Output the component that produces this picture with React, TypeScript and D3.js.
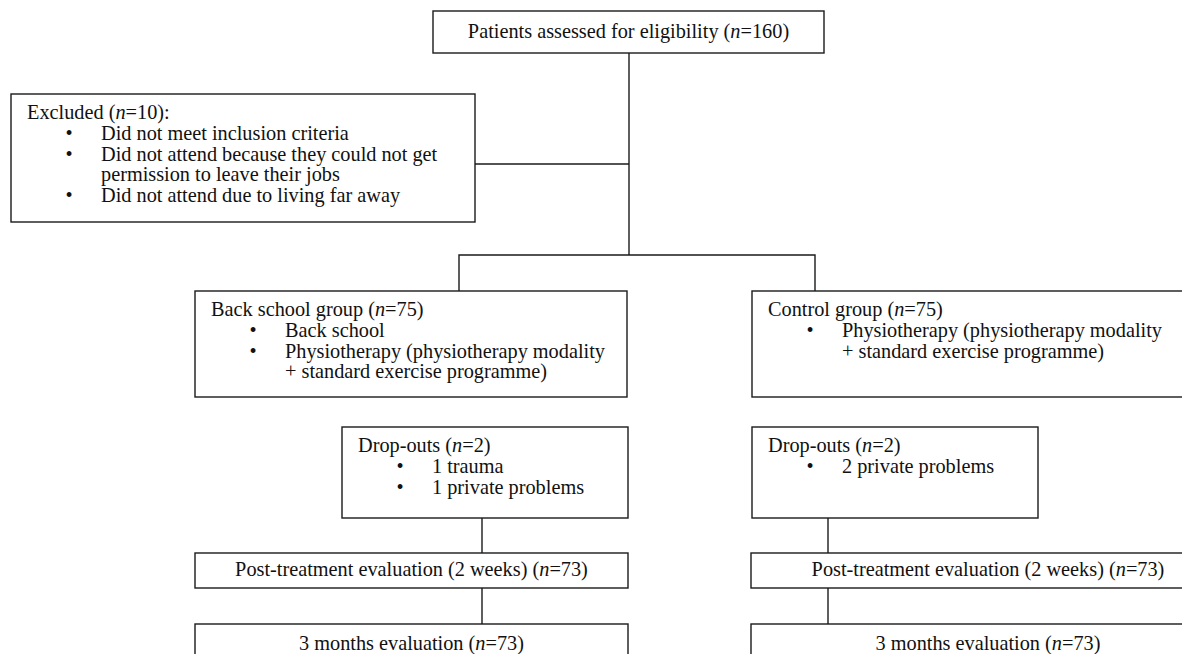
import React from "react";
import * as d3 from "d3";

// ---- flow data ----
const assessedLabel = "Patients assessed for eligibility";
const assessedN = 160;

const excludedLabel = "Excluded";
const excludedN = 10;
// each reason is a list of wrapped lines
const excludedReasons = [
  ["Did not meet inclusion criteria"],
  ["Did not attend because they could not get", "permission to leave their jobs"],
  ["Did not attend due to living far away"],
];

const groupNames = ["Back school group", "Control group"];
const groupN = [75, 75];
const groupArms = [
  [["Back school"], ["Physiotherapy (physiotherapy modality", "+ standard exercise programme)"]],
  [["Physiotherapy (physiotherapy modality", "+ standard exercise programme)"]],
];

const dropoutLabel = "Drop-outs";
const dropoutN = [2, 2];
const dropoutReasons = [
  [["1 trauma"], ["1 private problems"]],
  [["2 private problems"]],
];

const postLabel = "Post-treatment evaluation (2 weeks)";
const postN = [73, 73];
const followLabel = "3 months evaluation";
const followN = [73, 73];

// ---- layout (pixels) ----
const W = 1182;
const H = 654;
const FONT = "'Liberation Serif', 'Times New Roman', Times, serif";
const FS = 20.3;
const LINE_H = 20.8;
const PAD_X = 16;
const FIRST_BASE = 25;
const BULLET_DX = 42;
const ITEM_DX = 74;
const STROKE = "#1a1a1a";

type Box = { x: number; y: number; w: number; h: number };

const layout = {
  assessed: { x: 433, y: 11, w: 391, h: 42 },
  excluded: { x: 11, y: 94, w: 464, h: 128 },
  groups: [
    { x: 195, y: 291, w: 432, h: 106 },
    { x: 752, y: 291, w: 480, h: 106 },
  ],
  dropouts: [
    { x: 342, y: 427, w: 286, h: 91 },
    { x: 752, y: 427, w: 286, h: 91 },
  ],
  post: [
    { x: 195, y: 553, w: 433, h: 35 },
    { x: 751, y: 553, w: 474, h: 35 },
  ],
  follow: [
    { x: 195, y: 624, w: 433, h: 60 },
    { x: 751, y: 624, w: 474, h: 60 },
  ],
  stemX: 629,
  excludedY: 164,
  splitY: 255,
  armX: [459, 815],
  colX: [482, 828],
};

const NLabel = ({ label, n }: { label: string; n: number }) => (
  <>
    <tspan>{label} (</tspan>
    <tspan fontStyle="italic">n</tspan>
    <tspan>={n})</tspan>
  </>
);

const Rect = ({ b }: { b: Box }) => (
  <rect x={b.x} y={b.y} width={b.w} height={b.h} fill="#fff" stroke={STROKE} strokeWidth={1.4} />
);

const CenterBox = ({ b, label, n, baseDy }: { b: Box; label: string; n: number; baseDy: number }) => (
  <g>
    <Rect b={b} />
    <text x={b.x + b.w / 2} y={b.y + baseDy} textAnchor="middle">
      <NLabel label={label} n={n} />
    </text>
  </g>
);

const ListBox = ({
  b,
  label,
  n,
  items,
  colon,
}: {
  b: Box;
  label: string;
  n: number;
  items: string[][];
  colon?: boolean;
}) => {
  const x0 = b.x + PAD_X;
  let row = 0;
  const lines: React.ReactNode[] = [];
  items.forEach((item, i) => {
    item.forEach((ln, j) => {
      row += 1;
      const y = b.y + FIRST_BASE + row * LINE_H;
      if (j === 0) {
        lines.push(
          <text key={`b${i}`} x={x0 + BULLET_DX} y={y} textAnchor="middle">
            •
          </text>
        );
      }
      lines.push(
        <text key={`t${i}-${j}`} x={x0 + ITEM_DX} y={y}>
          {ln}
        </text>
      );
    });
  });
  return (
    <g>
      <Rect b={b} />
      <text x={x0} y={b.y + FIRST_BASE}>
        <NLabel label={label} n={n} />
        {colon ? ":" : ""}
      </text>
      {lines}
    </g>
  );
};

export default function App() {
  const line = d3.line<[number, number]>();
  const L = layout;
  const connectors: [number, number][][] = [
    [[L.stemX, L.assessed.y + L.assessed.h], [L.stemX, L.splitY]],
    [[L.excluded.x + L.excluded.w, L.excludedY], [L.stemX, L.excludedY]],
    [[L.armX[0], L.groups[0].y], [L.armX[0], L.splitY], [L.armX[1], L.splitY], [L.armX[1], L.groups[1].y]],
  ];
  [0, 1].forEach((k) => {
    connectors.push([[L.colX[k], L.dropouts[k].y + L.dropouts[k].h], [L.colX[k], L.post[k].y]]);
    connectors.push([[L.colX[k], L.post[k].y + L.post[k].h], [L.colX[k], L.follow[k].y]]);
  });

  return (
    <svg
      width={W}
      height={H}
      viewBox={`0 0 ${W} ${H}`}
      style={{ position: "absolute", left: 0, top: 0, background: "#fff" }}
      fontFamily={FONT}
      fontSize={FS}
      fill="#111"
    >
      <rect width={W} height={H} fill="#fff" />
      {connectors.map((pts, i) => (
        <path key={i} d={line(pts) || ""} fill="none" stroke={STROKE} strokeWidth={1.4} />
      ))}
      <CenterBox b={L.assessed} label={assessedLabel} n={assessedN} baseDy={27} />
      <ListBox b={L.excluded} label={excludedLabel} n={excludedN} items={excludedReasons} colon />
      {groupNames.map((g, k) => (
        <ListBox key={g} b={L.groups[k]} label={g} n={groupN[k]} items={groupArms[k]} />
      ))}
      {dropoutN.map((n, k) => (
        <ListBox key={`d${k}`} b={L.dropouts[k]} label={dropoutLabel} n={n} items={dropoutReasons[k]} />
      ))}
      {postN.map((n, k) => (
        <CenterBox key={`p${k}`} b={L.post[k]} label={postLabel} n={n} baseDy={23} />
      ))}
      {followN.map((n, k) => (
        <CenterBox key={`f${k}`} b={L.follow[k]} label={followLabel} n={n} baseDy={26} />
      ))}
    </svg>
  );
}
